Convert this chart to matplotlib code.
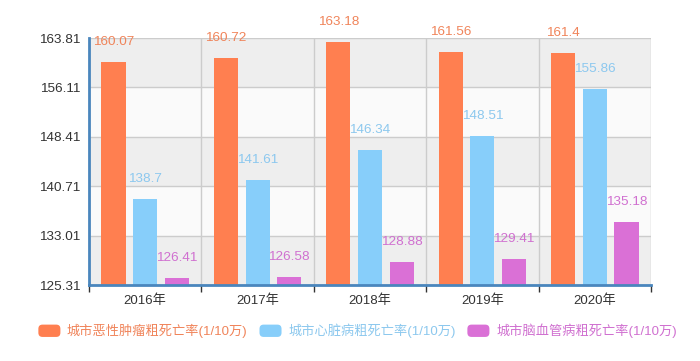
import matplotlib
matplotlib.use("Agg")
import matplotlib.pyplot as plt
from matplotlib.patches import FancyBboxPatch, Patch
from matplotlib.legend_handler import HandlerPatch

plt.rcParams['font.family'] = ['Liberation Sans', 'Noto Sans CJK SC']

years = ['2016年', '2017年', '2018年', '2019年', '2020年']
series_names = ['城市恶性肿瘤粗死亡率(1/10万)', '城市心脏病粗死亡率(1/10万)', '城市脑血管病粗死亡率(1/10万)']
cancer = [160.07, 160.72, 163.18, 161.56, 161.4]
heart = [138.7, 141.61, 146.34, 148.51, 155.86]
cerebro = [126.41, 126.58, 128.88, 129.41, 135.18]
yticks = [125.31, 133.01, 140.71, 148.41, 156.11, 163.81]

colors = ['#FF7F50', '#87CEFA', '#DA70D6']
label_colors = ['#F0845A', '#8CC8EE', '#D070D0']

fig = plt.figure(figsize=(7, 3.61), dpi=100)
ax = fig.add_axes([89/700, 1-285/361, (651-89)/700, (285-38)/361])

ymin, ymax = yticks[0], yticks[-1]
ax.set_ylim(ymin, ymax)
ax.set_xlim(-0.5, len(years) - 0.5)

# alternating bands
for i in range(len(yticks) - 1):
    c = '#EEEEEE' if i % 2 == 0 else '#FAFAFA'
    ax.axhspan(yticks[i], yticks[i+1], color=c, zorder=0, lw=0)
ax.set_facecolor('white')

# grid
for t in yticks:
    ax.axhline(t, color='#CCCCCC', lw=1, zorder=1)
for b in range(len(years) + 1):
    ax.axvline(b - 0.5, color='#CCCCCC', lw=1, zorder=1)

width = 0.214
offsets = [-0.282, 0.0, 0.282]
data = [cancer, heart, cerebro]
for s, (vals, off) in enumerate(zip(data, offsets)):
    xs = [i + off for i in range(len(years))]
    ax.bar(xs, [v - ymin for v in vals], bottom=ymin, width=width,
           color=colors[s], zorder=3, label=series_names[s])
    for x, v in zip(xs, vals):
        ax.annotate(f'{v:g}', (x, v), xytext=(0, 14.5), textcoords='offset points',
                    ha='center', va='center', fontsize=9.7, color=label_colors[s],
                    zorder=4, annotation_clip=False)

# axes styling
for side in ['top', 'right']:
    ax.spines[side].set_visible(False)
ax.spines['left'].set_color('#4A86BD')
ax.spines['left'].set_linewidth(2)
ax.spines['bottom'].set_color('#4A86BD')
ax.spines['bottom'].set_linewidth(2)
ax.spines['left'].set_zorder(5)
ax.spines['bottom'].set_zorder(5)

ax.set_yticks(yticks)
ax.set_yticklabels([f'{t:.2f}' for t in yticks], fontsize=9.7, color='#333333')
ax.tick_params(axis='y', length=0, pad=6)

ax.set_xticks(range(len(years)))
ax.set_xticklabels(years, fontsize=9.5, color='#333333')
ax.tick_params(axis='x', which='major', length=0, pad=7)
ax.set_xticks([b - 0.5 for b in range(len(years) + 1)], minor=True)
ax.tick_params(axis='x', which='minor', length=5, width=1, color='#333333', direction='out')


class RoundHandler(HandlerPatch):
    def create_artists(self, legend, orig_handle, xdescent, ydescent, width, height, fontsize, trans):
        p = FancyBboxPatch((-xdescent, -ydescent), width, height,
                           boxstyle='round,pad=0,rounding_size=3',
                           facecolor=orig_handle.get_facecolor(), edgecolor='none', transform=trans)
        return [p]

handles = [Patch(facecolor=c) for c in colors]
leg = fig.legend(handles, series_names, loc='center', bbox_to_anchor=(357.5/700, 1-331/361),
                 ncol=3, frameon=False, fontsize=9.5, handlelength=1.67, handleheight=1.06,
                 handletextpad=0.5, columnspacing=0.9, borderpad=0,
                 handler_map={Patch: RoundHandler()})
for txt, c in zip(leg.get_texts(), label_colors):
    txt.set_color(c)

fig.savefig('out.png', dpi=100)
